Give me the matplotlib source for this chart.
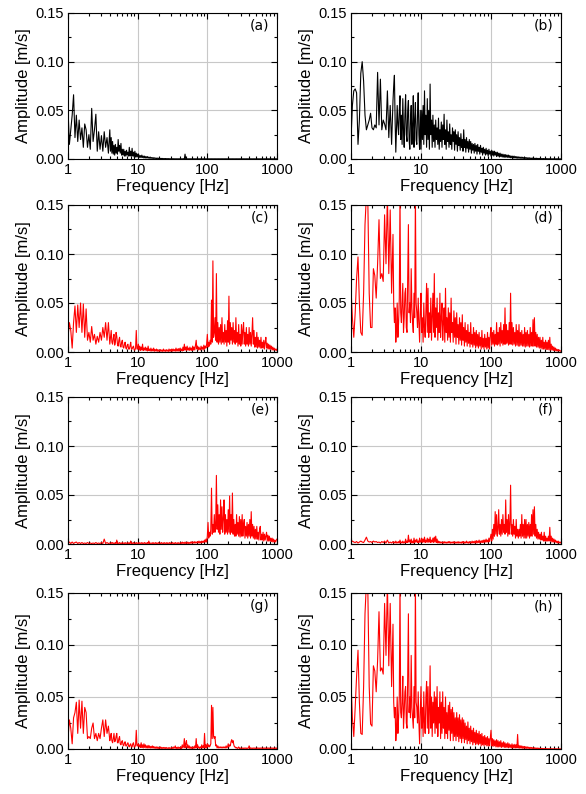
import numpy as np
import matplotlib as mpl
import matplotlib.pyplot as plt
from matplotlib.ticker import MultipleLocator, FormatStrFormatter, LogLocator, FixedFormatter, FixedLocator

mpl.rcParams['font.family'] = ['Liberation Sans', 'DejaVu Sans']
mpl.rcParams['axes.linewidth'] = 0.8

# frequency grid [Hz]: coarse below 4 Hz, fine above
freq = [
    1.000, 1.047, 1.096, 1.148, 1.202, 1.259, 1.318, 1.380, 1.445, 1.514,
    1.585, 1.660, 1.738, 1.820, 1.905, 1.995, 2.089, 2.188, 2.291, 2.399,
    2.512, 2.630, 2.754, 2.884, 3.020, 3.162, 3.311, 3.467, 3.631, 3.802,
    3.981, 4.074, 4.169, 4.266, 4.365, 4.467, 4.571, 4.677, 4.786, 4.898,
    5.012, 5.129, 5.248, 5.370, 5.495, 5.623, 5.754, 5.888, 6.026, 6.166,
    6.310, 6.457, 6.607, 6.761, 6.918, 7.079, 7.244, 7.413, 7.586, 7.762,
    7.943, 8.128, 8.318, 8.511, 8.710, 8.913, 9.120, 9.333, 9.550, 9.772,
    10.00, 10.23, 10.47, 10.72, 10.96, 11.22, 11.48, 11.75, 12.02, 12.30,
    12.59, 12.88, 13.18, 13.49, 13.80, 14.13, 14.45, 14.79, 15.14, 15.49,
    15.85, 16.22, 16.60, 16.98, 17.38, 17.78, 18.20, 18.62, 19.05, 19.50,
    19.95, 20.42, 20.89, 21.38, 21.88, 22.39, 22.91, 23.44, 23.99, 24.55,
    25.12, 25.70, 26.30, 26.92, 27.54, 28.18, 28.84, 29.51, 30.20, 30.90,
    31.62, 32.36, 33.11, 33.88, 34.67, 35.48, 36.31, 37.15, 38.02, 38.90,
    39.81, 40.74, 41.69, 42.66, 43.65, 44.67, 45.71, 46.77, 47.86, 48.98,
    50.12, 51.29, 52.48, 53.70, 54.95, 56.23, 57.54, 58.88, 60.26, 61.66,
    63.10, 64.57, 66.07, 67.61, 69.18, 70.79, 72.44, 74.13, 75.86, 77.62,
    79.43, 81.28, 83.18, 85.11, 87.10, 89.13, 91.20, 93.33, 95.50, 97.72,
    100.0, 102.3, 104.7, 107.2, 109.6, 112.2, 114.8, 117.5, 120.2, 123.0,
    125.9, 128.8, 131.8, 134.9, 138.0, 141.3, 144.5, 147.9, 151.4, 154.9,
    158.5, 162.2, 166.0, 169.8, 173.8, 177.8, 182.0, 186.2, 190.5, 195.0,
    199.5, 204.2, 208.9, 213.8, 218.8, 223.9, 229.1, 234.4, 239.9, 245.5,
    251.2, 257.0, 263.0, 269.2, 275.4, 281.8, 288.4, 295.1, 302.0, 309.0,
    316.2, 323.6, 331.1, 338.8, 346.7, 354.8, 363.1, 371.5, 380.2, 389.0,
    398.1, 407.4, 416.9, 426.6, 436.5, 446.7, 457.1, 467.7, 478.6, 489.8,
    501.2, 512.9, 524.8, 537.0, 549.5, 562.3, 575.4, 588.8, 602.6, 616.6,
    631.0, 645.7, 660.7, 676.1, 691.8, 707.9, 724.4, 741.3, 758.6, 776.2,
    794.3, 812.8, 831.8, 851.1, 871.0, 891.3, 912.0, 933.3, 955.0, 977.2,
    1000.0]

# amplitudes in 1e-3 m/s, one value per frequency
amp_a = [
    51, 15, 30, 45, 66, 22, 45, 18, 40, 20,
    32, 12, 36, 30, 12, 25, 10, 52, 18, 30,
    46, 8, 28, 10, 24, 8, 28, 12, 22, 6,
    30, 8, 22, 6, 18, 5, 14, 4, 15, 6,
    12, 5, 20, 8, 14, 6, 16, 4, 10, 4,
    10, 3, 8, 3, 9, 4, 7, 3, 12, 3,
    8, 3, 11, 3, 7, 2, 8, 2, 6, 2,
    5, 2, 4, 1.5, 3.5, 1.5, 4, 1.5, 3, 1,
    3, 1, 2.5, 1, 2.5, 0.8, 2, 0.8, 2, 0.6,
    1.5, 0.6, 1.5, 0.5, 1.2, 0.5, 1, 0.4, 1, 0.4,
    0.8, 0.3, 0.8, 0.3, 0.6, 0.3, 0.6, 0.2, 0.5, 0.2,
    0.5, 0.2, 0.4, 0.2, 0.4, 0.1, 0.3, 0.1, 0.3, 0.1,
    0.3, 0.1, 0.3, 0.1, 0.2, 0.1, 0.2, 0.1, 0.2, 0.1,
    0.2, 0.1, 0.2, 0.1, 0.2, 0.1, 0.2, 0.1, 5, 0.1,
    0.2, 0.1, 0.2, 0.1, 0.2, 0.1, 0.2, 0.1, 0.2, 0.1,
    0.2, 0.1, 0.2, 0.1, 0.2, 0.1, 0.2, 0.1, 0.2, 0.1,
    0.2, 0.1, 0.2, 0.1, 0.2, 0.1, 0.2, 0.1, 0.2, 0.1,
    0.2, 0.1, 0.2, 0.1, 0.2, 0.1, 0.2, 0.1, 0.2, 0.1,
    0.2, 0.1, 0.2, 0.1, 0.2, 0.1, 0.2, 0.1, 0.2, 0.1,
    0.2, 0.1, 0.2, 0.1, 0.2, 0.1, 0.2, 0.1, 0.2, 0.1,
    0.2, 0.1, 0.2, 0.1, 0.2, 0.1, 0.2, 0.1, 0.2, 0.1,
    0.2, 0.1, 0.2, 0.1, 0.2, 0.1, 0.2, 0.1, 0.2, 0.1,
    0.2, 0.1, 0.2, 0.1, 0.2, 0.1, 0.2, 0.1, 0.2, 0.1,
    0.2, 0.1, 0.2, 0.1, 0.2, 0.1, 0.2, 0.1, 0.2, 0.1,
    0.2, 0.1, 0.2, 0.1, 0.2, 0.1, 0.2, 0.1, 0.2, 0.1,
    0.2, 0.1, 0.2, 0.1, 0.2, 0.1, 0.2, 0.1, 0.2, 0.1,
    0.2, 0.1, 0.2, 0.1, 0.2, 0.1, 0.2, 0.1, 0.2, 0.1,
    0.1]

amp_b = [
    20, 55, 70, 72, 68, 15, 40, 88, 100, 80,
    45, 30, 35, 40, 47, 32, 30, 35, 32, 89,
    35, 82, 30, 40, 36, 30, 70, 22, 55, 15,
    60, 75, 86, 40, 7, 30, 55, 35, 25, 50,
    65, 20, 45, 15, 62, 30, 12, 45, 66, 25,
    18, 50, 60, 20, 10, 40, 55, 15, 35, 65,
    12, 40, 58, 20, 15, 45, 68, 25, 10, 50,
    10, 50, 20, 55, 15, 70, 25, 45, 12, 62,
    20, 50, 10, 77, 25, 40, 12, 45, 18, 35,
    12, 40, 20, 32, 15, 42, 10, 30, 18, 38,
    12, 35, 20, 46, 15, 30, 10, 40, 18, 28,
    12, 36, 15, 25, 10, 32, 18, 28, 9, 30,
    15, 25, 8, 28, 14, 22, 9, 26, 12, 20,
    8, 30, 12, 20, 7, 22, 11, 18, 7, 20,
    10, 18, 6, 16, 9, 15, 6, 16, 8, 14,
    5, 15, 8, 12, 5, 14, 7, 11, 4, 12,
    6, 10, 4, 11, 5, 9, 3, 10, 5, 8,
    3, 9, 4, 8, 3, 8, 4, 7, 2.5, 7,
    3, 6, 2, 6, 2.5, 5, 2, 5, 2, 4.5,
    1.5, 4.5, 2, 4, 1.5, 4, 1.5, 3.5, 1.2, 3,
    1.2, 3, 1, 3, 1, 2.5, 0.8, 2.5, 0.8, 2.2,
    0.7, 2, 0.7, 2, 0.6, 1.8, 0.5, 1.6, 0.5, 1.5,
    0.4, 1.4, 0.4, 1.3, 0.3, 1.2, 0.3, 1, 0.3, 1,
    0.3, 0.9, 0.2, 0.8, 0.2, 0.8, 0.2, 0.7, 0.2, 0.6,
    0.2, 0.6, 0.1, 0.5, 0.1, 0.5, 0.1, 0.4, 0.1, 0.4,
    0.1, 0.3, 0.1, 0.3, 0.1, 0.3, 0.1, 0.2, 0.1, 0.2,
    0.1, 0.2, 0.05, 0.2, 0.05, 0.2, 0.05, 0.1, 0.05, 0.1,
    0.05]

amp_c = [
    15, 30, 22, 4, 30, 47, 20, 48, 25, 50,
    20, 49, 15, 44, 12, 20, 10, 26, 12, 18,
    8, 16, 10, 20, 12, 25, 15, 30, 12, 30,
    8, 15, 22, 10, 8, 14, 18, 7, 10, 20,
    16, 8, 6, 12, 15, 6, 5, 10, 12, 5,
    4, 8, 10, 4, 3, 7, 8, 3, 3, 6,
    10, 3, 3, 5, 6, 2, 2, 4, 22, 3,
    3, 8, 2, 6, 1.5, 5, 2, 8, 1.5, 4,
    2, 5, 1.5, 4, 1, 6, 1.5, 3, 1, 4,
    1, 3, 1, 4, 0.8, 2.5, 1, 3, 0.6, 2.5,
    0.8, 2, 0.6, 2.5, 0.8, 2, 0.5, 3, 0.8, 2,
    0.6, 2.5, 0.8, 2, 0.5, 3, 0.8, 2.5, 0.6, 3,
    0.8, 3, 1, 2.5, 0.8, 4, 1, 3, 0.8, 3.5,
    1, 4, 1.5, 3, 1, 5, 1.5, 8, 2, 5,
    1.5, 6, 2, 4, 1.5, 5, 2, 4, 1.5, 6,
    2, 5, 2, 7, 12, 3, 6, 2, 5, 3,
    2, 6, 3, 5, 2, 7, 3, 6, 4, 8,
    18, 5, 10, 6, 12, 8, 53, 10, 93, 15,
    20, 35, 12, 80, 10, 30, 8, 25, 10, 28,
    8, 35, 10, 20, 8, 28, 10, 22, 6, 32,
    10, 57, 8, 30, 12, 25, 8, 30, 10, 22,
    8, 35, 10, 20, 6, 28, 8, 18, 6, 28,
    8, 22, 30, 8, 20, 6, 25, 8, 18, 6,
    25, 8, 20, 6, 18, 35, 8, 22, 5, 15,
    5, 20, 4, 15, 5, 12, 4, 15, 4, 10,
    4, 12, 3, 10, 15, 4, 9, 3, 8, 3,
    7, 3, 6, 2, 5, 2, 4, 2, 3, 1.5,
    3]

amp_d = [
    65, 35, 15, 40, 75, 97, 50, 20, 17, 60,
    130, 160, 155, 60, 25, 25, 85, 78, 55, 90,
    135, 75, 80, 72, 140, 90, 160, 80, 145, 60,
    120, 50, 30, 45, 10, 25, 50, 15, 30, 55,
    160, 40, 30, 50, 70, 20, 35, 60, 65, 25,
    20, 75, 130, 40, 50, 30, 85, 45, 30, 20,
    60, 35, 160, 50, 40, 25, 55, 30, 10, 40,
    60, 20, 35, 10, 50, 25, 15, 45, 70, 20,
    65, 15, 40, 20, 55, 12, 35, 60, 20, 80,
    15, 45, 25, 55, 12, 40, 20, 60, 15, 35,
    50, 12, 30, 45, 10, 65, 20, 35, 12, 45,
    15, 40, 10, 55, 20, 30, 10, 42, 15, 35,
    8, 40, 15, 28, 8, 35, 12, 30, 7, 38,
    12, 25, 6, 30, 10, 22, 6, 28, 9, 20,
    5, 30, 8, 18, 5, 25, 7, 20, 4, 22,
    6, 18, 4, 20, 6, 15, 3, 22, 5, 14,
    3, 18, 5, 14, 3, 20, 4, 15, 3, 18,
    25, 7, 20, 8, 22, 6, 18, 8, 30, 7,
    20, 8, 25, 6, 30, 9, 22, 7, 28, 8,
    45, 8, 28, 9, 22, 7, 30, 8, 60, 8,
    30, 7, 25, 8, 20, 6, 28, 7, 22, 6,
    28, 6, 20, 7, 22, 6, 18, 6, 25, 5,
    20, 6, 22, 6, 18, 5, 25, 6, 20, 6,
    33, 6, 35, 6, 20, 5, 18, 5, 15, 4,
    15, 4, 12, 3, 15, 3, 10, 3, 12, 2.5,
    10, 2.5, 12, 2, 15, 2, 8, 2, 6, 1.5,
    5, 1.5, 4, 1, 3, 1, 2.5, 1, 2, 0.8,
    1]

amp_e = [
    1, 2, 0.5, 2, 0.5, 1.5, 2, 0.5, 1.5, 0.5,
    1.5, 0.5, 1, 0.5, 1.5, 0.5, 1, 0.5, 1, 0.5,
    1.5, 0.5, 1, 0.5, 1.5, 0.5, 5, 0.5, 1.5, 0.5,
    1, 0.5, 1.5, 0.5, 1.5, 0.5, 1, 0.5, 1.5, 0.5,
    4, 0.5, 1, 0.5, 1.5, 0.5, 1, 0.5, 1.5, 0.5,
    1, 0.5, 1.5, 0.5, 1, 0.5, 1.5, 0.5, 1, 0.5,
    3, 0.5, 1, 0.5, 1.5, 0.5, 1, 0.5, 1.5, 0.5,
    1, 0.5, 1.5, 0.5, 1, 0.5, 1.5, 0.5, 1, 0.5,
    1.5, 0.5, 1, 0.5, 1.5, 0.5, 3, 0.5, 1, 0.5,
    1, 0.5, 1.5, 0.5, 1, 0.5, 1.5, 0.5, 1, 0.5,
    1.5, 0.5, 1, 0.5, 1.5, 0.5, 1, 0.5, 1.5, 0.5,
    1, 0.5, 1.5, 0.5, 1, 0.5, 1.5, 0.5, 1, 0.5,
    1.5, 0.5, 1, 0.5, 1.5, 0.5, 1, 0.5, 1.5, 0.5,
    1, 0.5, 1.5, 0.5, 2, 0.5, 1.5, 0.5, 2, 0.5,
    1.5, 0.5, 2, 0.5, 1.5, 0.5, 2, 0.8, 2.5, 0.8,
    2, 0.8, 2.5, 1, 2, 1, 2.5, 1, 3, 1,
    2.5, 1, 3, 1.5, 3, 1.5, 4, 2, 5, 2,
    8, 22, 6, 12, 8, 15, 57, 10, 20, 12,
    30, 12, 20, 70, 15, 40, 12, 30, 10, 45,
    15, 38, 12, 25, 45, 10, 30, 12, 25, 10,
    35, 12, 49, 10, 30, 12, 52, 10, 25, 8,
    20, 8, 30, 10, 22, 8, 28, 7, 25, 8,
    30, 8, 20, 25, 6, 18, 8, 22, 6, 20,
    8, 25, 6, 33, 8, 20, 6, 18, 5, 15,
    5, 18, 5, 12, 4, 15, 18, 4, 10, 4,
    12, 3, 10, 4, 8, 12, 3, 9, 3, 8,
    3, 6, 2.5, 6, 2, 5, 2, 4, 2, 4,
    5]

amp_f = [
    2, 3, 2, 1.5, 2.5, 1, 2, 3, 2, 1.5,
    4, 7, 3, 2, 2.5, 1.5, 3, 2, 2.5, 1.5,
    2, 1, 2.5, 1.5, 3, 1, 4, 1, 2, 1,
    2.5, 1, 2, 1, 3, 1, 2, 1, 2.5, 1,
    4, 1, 2, 1, 3, 1, 2, 1, 5, 1.5,
    3, 1.5, 9, 2, 4, 1.5, 5, 1, 3, 1,
    6, 1.5, 4, 2, 5, 1.5, 3, 1.5, 6, 2,
    2, 6, 1.5, 5, 2, 7, 1.5, 4, 2, 6,
    1.5, 5, 2, 7, 1.5, 4, 2, 6, 1.5, 7,
    2, 8, 1.5, 5, 1, 3, 1, 2.5, 1, 2,
    1, 2, 0.8, 2.5, 1, 2, 0.8, 2, 1, 2.5,
    1, 2.5, 0.8, 2, 1, 2, 0.8, 2.5, 1, 2,
    0.8, 2, 1, 2.5, 0.8, 2, 1, 2, 0.8, 2.5,
    1, 2.5, 0.8, 2, 1, 3, 1, 2, 0.8, 2.5,
    1, 2, 1, 3, 1, 2.5, 1, 3, 1, 3.5,
    1, 3, 1.5, 4, 1, 3, 1.5, 3.5, 1.5, 4,
    1.5, 4, 2, 5, 2, 4, 2, 6, 2.5, 6,
    10, 3, 15, 5, 20, 8, 33, 10, 30, 8,
    15, 35, 10, 20, 8, 25, 10, 30, 12, 20,
    10, 45, 12, 25, 8, 30, 10, 20, 60, 10,
    20, 8, 25, 10, 18, 6, 25, 8, 15, 6,
    15, 8, 20, 6, 30, 8, 20, 6, 25, 6,
    25, 6, 20, 8, 22, 6, 20, 8, 30, 8,
    35, 10, 38, 8, 20, 6, 15, 5, 12, 5,
    10, 4, 12, 4, 8, 3, 12, 3, 8, 3,
    6, 3, 8, 3, 17, 3, 8, 2, 6, 2,
    5, 2, 4, 1.5, 3, 1, 3, 1, 2, 1,
    2]

amp_g = [
    10, 28, 20, 5, 30, 35, 45, 15, 47, 20,
    46, 15, 40, 35, 10, 12, 10, 20, 25, 10,
    15, 8, 15, 10, 20, 28, 12, 28, 15, 22,
    8, 12, 15, 8, 6, 10, 15, 7, 8, 12,
    15, 6, 6, 10, 12, 5, 4, 7, 8, 4,
    3, 6, 7, 3, 3, 5, 6, 3, 2, 4,
    5, 2, 2, 5, 6, 2, 2, 4, 18, 3,
    3, 5, 2, 4, 1.5, 6, 1.5, 4, 1, 5,
    1.5, 4, 1, 3, 1, 3.5, 1, 3, 0.8, 2.5,
    1, 3, 0.8, 2.5, 0.8, 2, 0.6, 2, 0.5, 2,
    0.5, 1.5, 0.5, 2, 0.5, 1.5, 0.5, 1.5, 0.5, 1.5,
    0.5, 1.5, 0.5, 1, 0.5, 1.5, 0.5, 1, 0.5, 1.5,
    0.5, 2, 0.5, 1.5, 3, 0.5, 1.5, 0.5, 2, 0.5,
    1.5, 0.5, 2, 0.5, 4, 1, 3, 10, 1, 5,
    8, 1, 4, 1, 3, 0.5, 2, 0.5, 2, 0.5,
    2, 0.5, 3, 1, 10, 1, 4, 1, 2, 0.5,
    2, 1, 4, 1, 3, 1, 15, 1, 4, 1,
    5, 2, 4, 2, 3, 5, 42, 10, 40, 12,
    10, 12, 3, 4, 1, 3, 1, 2, 1, 2,
    1, 2, 1, 2, 1, 2, 1, 3, 1, 2,
    5, 2, 4, 3, 7, 9, 6, 8, 4, 2,
    2, 1, 1.5, 0.5, 1, 2, 0.5, 1, 0.5, 1,
    0.5, 1, 0.5, 1, 0.5, 1, 0.5, 1, 0.5, 1,
    3, 0.5, 1, 0.5, 1, 0.5, 1, 0.5, 1, 0.5,
    1, 0.5, 1, 0.5, 1, 0.5, 1, 0.5, 1, 0.5,
    1, 0.5, 1, 0.5, 1, 0.5, 1, 0.5, 1, 0.5,
    1, 0.5, 1, 0.5, 1, 0.5, 1, 0.5, 1, 0.5,
    1]

amp_h = [
    65, 30, 12, 40, 70, 95, 45, 15, 14, 60,
    130, 160, 155, 60, 24, 22, 80, 75, 55, 85,
    132, 75, 78, 72, 140, 90, 160, 80, 140, 60,
    120, 45, 30, 40, 8, 20, 50, 15, 30, 50,
    160, 35, 30, 45, 70, 20, 35, 55, 60, 25,
    20, 70, 130, 35, 50, 30, 90, 40, 30, 20,
    60, 30, 160, 45, 40, 25, 55, 25, 5, 35,
    60, 20, 40, 12, 55, 25, 15, 50, 65, 20,
    60, 15, 35, 80, 20, 50, 12, 45, 25, 55,
    15, 50, 20, 60, 12, 40, 25, 55, 10, 45,
    15, 55, 20, 40, 10, 50, 15, 35, 10, 42,
    18, 45, 8, 38, 15, 40, 8, 35, 12, 30,
    8, 35, 12, 30, 7, 33, 10, 28, 6, 30,
    10, 28, 6, 25, 9, 22, 5, 26, 8, 20,
    5, 22, 7, 18, 4, 20, 6, 16, 4, 18,
    5, 15, 4, 17, 5, 14, 3, 15, 4, 12,
    3, 13, 4, 11, 3, 12, 3, 10, 3, 11,
    18, 3, 10, 2.5, 9, 3, 8, 2, 9, 2,
    8, 2, 7, 2, 8, 1.5, 6, 2, 7, 1.5,
    6, 1.5, 5, 1.5, 6, 1.2, 5, 1.5, 4, 1,
    5, 1, 4, 1, 4.5, 1, 4, 1, 14, 1,
    3.5, 0.8, 3, 0.8, 3, 0.7, 2.5, 0.6, 2.5, 0.6,
    2.2, 0.5, 2, 0.5, 1.8, 0.4, 1.6, 0.4, 1.5, 0.4,
    1.3, 0.3, 1.2, 0.3, 1, 0.3, 1, 0.2, 0.8, 0.2,
    0.7, 0.2, 0.6, 0.2, 0.6, 0.1, 0.5, 0.1, 0.4, 0.1,
    0.4, 0.1, 0.3, 0.1, 0.3, 0.1, 0.3, 0.1, 0.2, 0.1,
    0.2, 0.05, 0.2, 0.05, 0.2, 0.05, 0.1, 0.05, 0.1, 0.05,
    0.05]

panels = [('(a)', amp_a, 'black'), ('(b)', amp_b, 'black'),
          ('(c)', amp_c, 'red'), ('(d)', amp_d, 'red'),
          ('(e)', amp_e, 'red'), ('(f)', amp_f, 'red'),
          ('(g)', amp_g, 'red'), ('(h)', amp_h, 'red')]

fig = plt.figure(figsize=(5.86, 7.94), dpi=100)

lefts = [68 / 586, 351 / 586]
widths = [209 / 586, 210 / 586]
rows = [(13, 159), (205, 352), (397, 544), (593, 749)]

for k, (lab, amp, col) in enumerate(panels):
    r, c = divmod(k, 2)
    top, bot = rows[r]
    ax = fig.add_axes([lefts[c], 1 - bot / 794, widths[c], (bot - top) / 794])
    ax.plot(freq, np.array(amp) * 1e-3, color=col, lw=0.8)
    ax.set_xscale('log')
    ax.set_xlim(1, 1000)
    ax.set_ylim(0, 0.15)
    ax.xaxis.set_major_locator(FixedLocator([1, 10, 100, 1000]))
    ax.xaxis.set_major_formatter(FixedFormatter(['1', '10', '100', '1000']))
    ax.xaxis.set_minor_locator(LogLocator(base=10, subs=np.arange(2, 10)))
    ax.yaxis.set_major_locator(MultipleLocator(0.05))
    ax.yaxis.set_minor_locator(MultipleLocator(0.025))
    ax.yaxis.set_major_formatter(FormatStrFormatter('%.2f'))
    ax.tick_params(which='both', direction='in', top=True, right=True,
                   width=0.8, labelsize=10.5, pad=3)
    ax.tick_params(which='major', length=4)
    ax.tick_params(which='minor', length=2)
    ax.grid(True, which='major', color='#c8c8c8', lw=0.8)
    ax.set_axisbelow(True)
    ax.set_xlabel('Frequency [Hz]', fontsize=12, labelpad=1)
    ax.set_ylabel('Amplitude [m/s]', fontsize=12, labelpad=3)
    ax.text(0.965, 0.96, lab, transform=ax.transAxes, ha='right', va='top',
            fontsize=10, family=['DejaVu Sans'])

fig.savefig('out.png', dpi=100)
